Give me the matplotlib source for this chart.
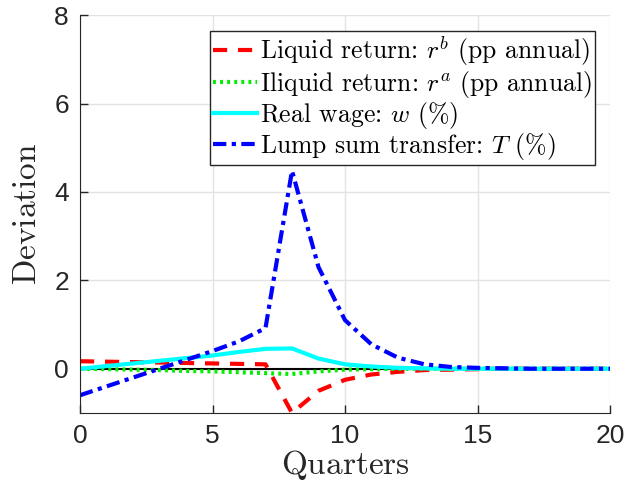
"""Impulse responses of prices and transfers (MATLAB-style recreation)."""

import matplotlib
matplotlib.use("Agg")
import matplotlib.pyplot as plt

quarters = list(range(0, 21))

liquid_return = [0.17, 0.16, 0.15, 0.14, 0.13, 0.12, 0.11, 0.10, -1.0, -0.50,
                 -0.25, -0.13, -0.07, -0.03, -0.02, -0.01, 0.0, 0.0, 0.0, 0.0, 0.0]
illiquid_return = [0.0, -0.01, -0.02, -0.03, -0.05, -0.06, -0.08, -0.10, -0.12, -0.06,
                   -0.02, -0.01, 0.0, 0.0, 0.0, 0.0, 0.0, 0.0, 0.0, 0.0, 0.0]
real_wage = [0.0, 0.06, 0.12, 0.18, 0.24, 0.30, 0.38, 0.45, 0.46, 0.23,
             0.10, 0.05, 0.02, 0.01, 0.0, 0.0, 0.0, 0.0, 0.0, 0.0, 0.0]
transfer = [-0.60, -0.40, -0.20, 0.0, 0.20, 0.40, 0.62, 0.92, 4.48, 2.30,
            1.10, 0.55, 0.25, 0.10, 0.04, 0.02, 0.01, 0.0, 0.0, 0.0, 0.0]

labels = [
    r"Liquid return: $r^b$ (pp annual)",
    r"Iliquid return: $r^a$ (pp annual)",
    r"Real wage: $w$ (%)",
    r"Lump sum transfer: $T$ (%)",
]

plt.rcParams["mathtext.fontset"] = "cm"
plt.rcParams["font.family"] = "Liberation Sans"

fig = plt.figure(figsize=(6.25, 4.91), dpi=100)
ax = fig.add_axes([0.128, 0.159, 0.848, 0.810])

ax.plot(quarters, liquid_return, color="red", lw=3, ls=(0, (3.4, 2.6)), label=labels[0])
ax.plot(quarters, illiquid_return, color="#00ee00", lw=3, ls=(0, (0.7, 1.0)), label=labels[1])
ax.plot(quarters, real_wage, color="cyan", lw=3, ls="-", label=labels[2])
ax.plot(quarters, transfer, color="blue", lw=3, ls=(0, (3.2, 1.3, 1.0, 1.3)), label=labels[3])
ax.axhline(0, color="black", lw=1.5, zorder=1)

ax.set_xlim(0, 20)
ax.set_ylim(-1, 8)
ax.set_xticks([0, 5, 10, 15, 20])
ax.set_yticks([0, 2, 4, 6, 8])
ax.grid(True, color="#e3e3e3", lw=1)
ax.set_axisbelow(True)
ax.tick_params(direction="in", length=6, width=1, labelsize=19, colors="#262626",
               top=False, right=False, pad=8)
for side in ["left", "bottom"]:
    ax.spines[side].set_color("#262626")
for side in ["top", "right"]:
    ax.spines[side].set_visible(False)

ax.set_xlabel(r"$\mathrm{Quarters}$", fontsize=24, color="#262626", labelpad=0)
ax.set_ylabel(r"$\mathrm{Deviation}$", fontsize=24, color="#262626", labelpad=8)

leg = ax.legend(loc="upper right", prop={"family": "cmr10", "size": 18.5},
                frameon=True, fancybox=False,
                edgecolor="#262626", framealpha=1, handlelength=1.7,
                handletextpad=0.1, borderpad=0.12, labelspacing=0.0,
                borderaxespad=0.6)
leg.get_frame().set_linewidth(1)

fig.savefig("out.png", dpi=100)
